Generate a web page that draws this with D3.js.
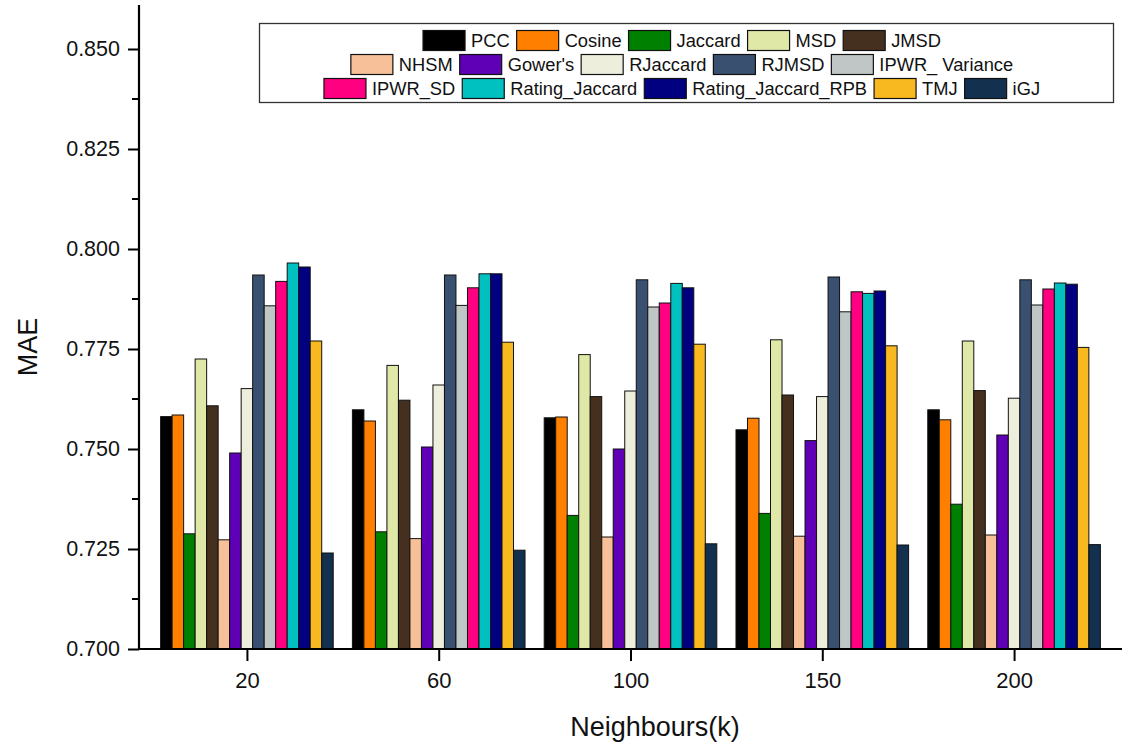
<!DOCTYPE html>
<html><head><meta charset="utf-8">
<script src="https://cdn.jsdelivr.net/npm/d3@7"></script>
<style>body{margin:0;background:#fff;} svg{display:block;font-family:"Liberation Sans",Arial,sans-serif;}</style>
</head><body>
<svg id="c" width="1140" height="747"></svg>
<script>
const categories = ["20","60","100","150","200"];
const seriesNames = ["PCC","Cosine","Jaccard","MSD","JMSD","NHSM","Gower's","RJaccard","RJMSD","IPWR_ Variance","IPWR_SD","Rating_Jaccard","Rating_Jaccard_RPB","TMJ","iGJ"];
const seriesColors = ["#000000","#FF8000","#008000","#E0E8A8","#45301F","#F8C098","#5F00B7","#EEEEDC","#3A5070","#C0C6C6","#FF0080","#00C0C0","#000080","#F8B820","#13304F"];
const PCC = [0.7581, 0.7598, 0.7578, 0.7548, 0.7598];
const Cosine = [0.7585, 0.7570, 0.7580, 0.7577, 0.7573];
const Jaccard = [0.7288, 0.7293, 0.7334, 0.7339, 0.7362];
const MSD = [0.7725, 0.7709, 0.7736, 0.7773, 0.7770];
const JMSD = [0.7608, 0.7622, 0.7631, 0.7635, 0.7646];
const NHSM = [0.7273, 0.7276, 0.7280, 0.7282, 0.7285];
const Gowers = [0.7490, 0.7505, 0.7500, 0.7521, 0.7535];
const RJaccard = [0.7651, 0.7660, 0.7645, 0.7631, 0.7627];
const RJMSD = [0.7935, 0.7935, 0.7923, 0.7930, 0.7923];
const IPWR_Variance = [0.7858, 0.7859, 0.7855, 0.7843, 0.7860];
const IPWR_SD = [0.7919, 0.7903, 0.7865, 0.7893, 0.7900];
const Rating_Jaccard = [0.7965, 0.7938, 0.7914, 0.7889, 0.7915];
const Rating_Jaccard_RPB = [0.7955, 0.7938, 0.7903, 0.7895, 0.7912];
const TMJ = [0.7770, 0.7767, 0.7762, 0.7758, 0.7754];
const iGJ = [0.7240, 0.7247, 0.7263, 0.7260, 0.7261];
const seriesValues = [PCC,Cosine,Jaccard,MSD,JMSD,NHSM,Gowers,RJaccard,RJMSD,IPWR_Variance,IPWR_SD,Rating_Jaccard,Rating_Jaccard_RPB,TMJ,iGJ];
const yTicks = [0.700,0.725,0.750,0.775,0.800,0.825,0.850];

const svg = d3.select("#c");
const L = 139, R = 1122, B = 649, T = 5;
const x = d3.scalePoint().domain(categories).range([L, R]).padding(0.5627);
const inner = d3.scaleBand().domain(seriesNames).range([-x.step()*0.45, x.step()*0.45]).padding(0);
const y = d3.scaleLinear().domain([0.7, 0.86]).range([B, 9]);

// bars
const groups = svg.append("g").selectAll("g").data(categories).join("g")
  .attr("transform", d => `translate(${x(d)},0)`);
groups.selectAll("rect").data((c, ci) => seriesNames.map((s, si) => ({s, si, v: seriesValues[si][ci]})))
  .join("rect")
  .attr("x", d => inner(d.s)).attr("width", inner.bandwidth())
  .attr("y", d => y(d.v)).attr("height", d => B - y(d.v))
  .attr("fill", d => seriesColors[d.si]).attr("stroke", "#111").attr("stroke-width", 1);

// y axis
const ya = svg.append("g").attr("transform", `translate(${L},0)`)
  .call(d3.axisLeft(y).tickValues(yTicks).tickFormat(d3.format(".3f")).tickSize(11).tickPadding(8));
ya.select(".domain").remove();
ya.selectAll(".tick line").attr("stroke", "#000").attr("stroke-width", 2);
ya.selectAll("text").attr("font-size", 21.5).attr("fill", "#111").attr("font-family", "Liberation Sans, Arial, sans-serif");
const minor = d3.range(0.7125, 0.86, 0.025);
svg.append("g").selectAll("line").data(minor).join("line")
  .attr("x1", L - 7).attr("x2", L).attr("y1", d => y(d)).attr("y2", d => y(d))
  .attr("stroke", "#000").attr("stroke-width", 2);
svg.append("line").attr("x1", L).attr("x2", L).attr("y1", T).attr("y2", B + 1).attr("stroke", "#000").attr("stroke-width", 2.2);

// x axis
const xa = svg.append("g").attr("transform", `translate(0,${B})`)
  .call(d3.axisBottom(x).tickSize(12).tickPadding(11));
xa.select(".domain").remove();
xa.selectAll(".tick line").attr("stroke", "#000").attr("stroke-width", 2);
xa.selectAll("text").attr("font-size", 22).attr("fill", "#111").attr("font-family", "Liberation Sans, Arial, sans-serif");
svg.append("line").attr("x1", L - 1).attr("x2", R).attr("y1", B).attr("y2", B).attr("stroke", "#000").attr("stroke-width", 2.2);

// axis titles
svg.append("text").attr("x", 655).attr("y", 736).attr("text-anchor", "middle")
  .attr("font-size", 27).attr("fill", "#111").text("Neighbours(k)");
svg.append("text").attr("transform", "translate(37,347) rotate(-90)").attr("text-anchor", "middle")
  .attr("font-size", 27).attr("fill", "#111").text("MAE");

// legend
svg.append("rect").attr("x", 259.5).attr("y", 23.5).attr("width", 854).attr("height", 79)
  .attr("fill", "#fff").attr("stroke", "#333").attr("stroke-width", 1.3);
const rows = [[0,1,2,3,4],[5,6,7,8,9],[10,11,12,13,14]];
const rowY = [40.5, 64.5, 88.5];
const sw = 42, sh = 20, gap1 = 6, gap2 = 7;
rows.forEach((row, ri) => {
  const g = svg.append("g");
  let cx = 0;
  row.forEach(si => {
    g.append("rect").attr("x", cx).attr("y", rowY[ri] - sh/2).attr("width", sw).attr("height", sh)
      .attr("fill", seriesColors[si]).attr("stroke", "#111").attr("stroke-width", 1.2);
    const t = g.append("text").attr("x", cx + sw + gap1).attr("y", rowY[ri] + 6.6)
      .attr("font-size", 18.3).attr("fill", "#111").text(seriesNames[si]);
    cx += sw + gap1 + t.node().getComputedTextLength() + gap2;
  });
  const w = cx - gap2;
  g.attr("transform", `translate(${682 - w/2},0)`);
});
</script>
</body></html>
